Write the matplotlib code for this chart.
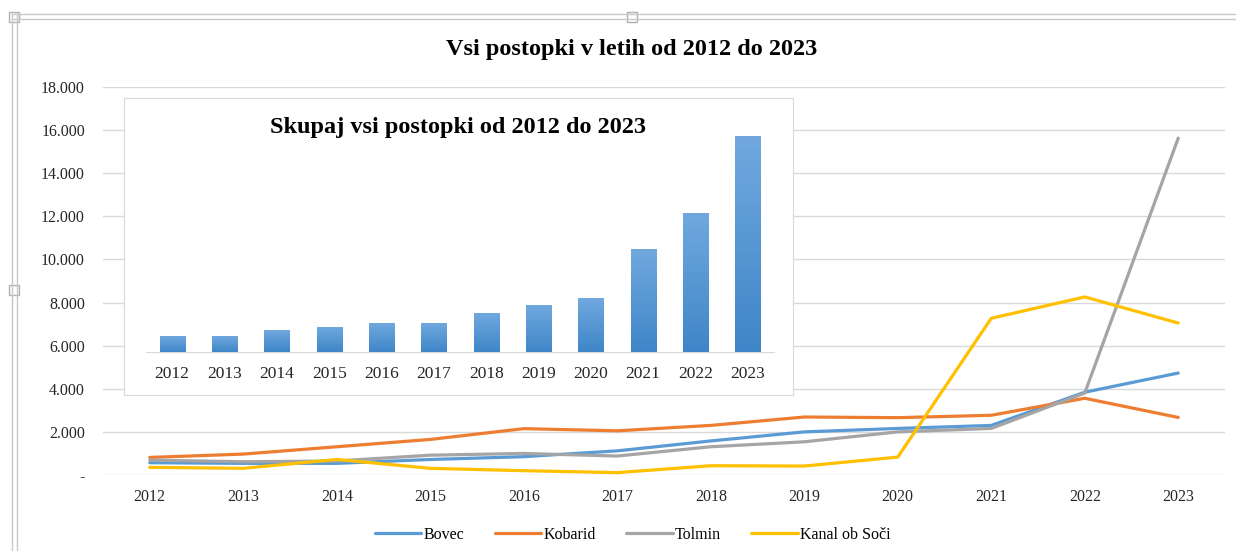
import numpy as np
import matplotlib
matplotlib.use('Agg')
import matplotlib.pyplot as plt
from matplotlib.patches import Rectangle
from matplotlib.lines import Line2D
from matplotlib.ticker import FuncFormatter
from matplotlib.colors import LinearSegmentedColormap

years = ['2012', '2013', '2014', '2015', '2016', '2017',
         '2018', '2019', '2020', '2021', '2022', '2023']
bovec = [570, 540, 540, 720, 850, 1120, 1580, 2000, 2160, 2300, 3840, 4730]
kobarid = [815, 970, 1310, 1650, 2150, 2050, 2300, 2690, 2660, 2770, 3560, 2670]
tolmin = [690, 615, 650, 920, 1000, 880, 1310, 1540, 2000, 2160, 3800, 15630]
kanal = [354, 310, 720, 310, 200, 110, 430, 415, 830, 7270, 8260, 7050]
skupaj = [2130, 2130, 2960, 3380, 3990, 3990, 5420, 6440, 7460, 14270, 19360, 30070]

series = [('Bovec', bovec, '#5B9BD5'),
          ('Kobarid', kobarid, '#ED7D31'),
          ('Tolmin', tolmin, '#A5A5A5'),
          ('Kanal ob Soči', kanal, '#FFC000')]

plt.rcParams['font.family'] = ['Liberation Serif', 'DejaVu Serif']

W, H = 1236, 551
fig = plt.figure(figsize=(W / 100, H / 100), dpi=100)


def box(x0, y0, x1, y1):
    # pixel box (top-left origin) -> figure rect
    return [x0 / W, 1 - y1 / H, (x1 - x0) / W, (y1 - y0) / H]


# word selection frame
for y in (14, 19):
    fig.add_artist(Line2D([12 / W, 1], [1 - y / H, 1 - y / H], color='#c8c8c8', lw=1))
for x in (12, 17):
    fig.add_artist(Line2D([x / W, x / W], [0, 1 - 14 / H], color='#c8c8c8', lw=1))
for hx, hy in ((14, 17), (632, 17), (14, 290)):
    fig.add_artist(Rectangle(((hx - 5) / W, 1 - (hy + 5) / H), 10 / W, 10 / H,
                             facecolor='white', edgecolor='#b0b0b0', lw=1))

# main line chart
ax = fig.add_axes(box(103, 87, 1225, 475))
x = np.arange(len(years))
for name, vals, col in series:
    ax.plot(x, vals, color=col, lw=2.3, label=name, solid_capstyle='round')
ax.set_xlim(-0.5, len(years) - 0.5)
ax.set_ylim(0, 18000)
ax.set_yticks(np.arange(0, 18001, 2000))
ax.yaxis.set_major_formatter(FuncFormatter(
    lambda v, p: '-' if v == 0 else f'{int(v):,}'.replace(',', '.')))
ax.set_xticks(x)
ax.set_xticklabels(years)
ax.grid(axis='y', color='#d9d9d9', lw=1)
ax.set_axisbelow(True)
for s in ax.spines.values():
    s.set_visible(False)
ax.tick_params(length=0, labelsize=11.5, colors='#262626')
ax.tick_params(axis='y', pad=13)
ax.tick_params(axis='x', pad=10)
fig.text(632 / W, 1 - 49 / H, 'Vsi postopki v letih od 2012 do 2023',
         ha='center', va='center', fontsize=17.5, fontweight='bold')
ax.legend(loc='center', bbox_to_anchor=(0.512, 1 - 535 / H),
          bbox_transform=fig.transFigure, ncol=4, frameon=False,
          fontsize=11.5, handlelength=2.9, handletextpad=0.15,
          columnspacing=1.9)

# inset frame
bg = fig.add_axes(box(124, 98, 793, 395))
bg.set_facecolor('white')
bg.set_xticks([])
bg.set_yticks([])
for s in bg.spines.values():
    s.set_color('#d9d9d9')

# inset bar chart
ax2 = fig.add_axes(box(146, 130, 774, 352))
ax2.patch.set_alpha(0)
bars = ax2.bar(x, skupaj, width=0.48, color='#5596d6')
grad = LinearSegmentedColormap.from_list('g', ['#3f86c8', '#70a8de'])
for b in bars:
    bx, by = b.get_x(), b.get_y()
    im = ax2.imshow(np.linspace(0, 1, 64).reshape(-1, 1), cmap=grad,
                    origin='lower', aspect='auto', zorder=3,
                    extent=(bx, bx + b.get_width(), by, by + b.get_height()))
ax2.set_xlim(-0.5, len(years) - 0.5)
ax2.set_ylim(0, 31000)
ax2.set_yticks([])
ax2.set_xticks(x)
ax2.set_xticklabels(years)
for k in ('left', 'right', 'top'):
    ax2.spines[k].set_visible(False)
ax2.spines['bottom'].set_color('#d9d9d9')
ax2.tick_params(length=0, labelsize=12.5, colors='#262626', pad=10)
fig.text(458 / W, 1 - 127 / H, 'Skupaj vsi postopki od 2012 do 2023',
         ha='center', va='center', fontsize=17.5, fontweight='bold')

fig.savefig('out.png', dpi=100)
